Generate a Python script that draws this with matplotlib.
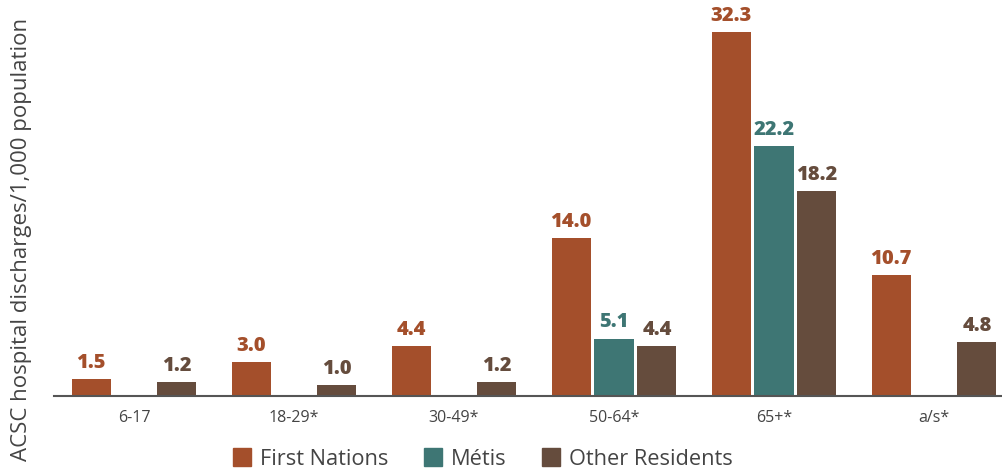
import matplotlib
matplotlib.use("Agg")
import matplotlib.pyplot as plt
import numpy as np
from matplotlib.patches import Patch

categories = ["6-17", "18-29*", "30-49*", "50-64*", "65+*", "a/s*"]
first_nations = [1.5, 3.0, 4.4, 14.0, 32.3, 10.7]
metis = [None, None, None, 5.1, 22.2, None]
other = [1.2, 1.0, 1.2, 4.4, 18.2, 4.8]
series_names = ["First Nations", "Métis", "Other Residents"]
colors = ["#A44F2B", "#3E7674", "#654C3D"]

plt.rcParams['font.family'] = ['Open Sans', 'DejaVu Sans']

fig = plt.figure(figsize=(10.03, 4.72), dpi=100)
ax = fig.add_axes([54/1003, 76/472, (1003-54)/1003, 396/472])

x = np.arange(len(categories))
width = 0.245
offset = 0.268
for i, (vals, col) in enumerate(zip([first_nations, metis, other], colors)):
    pos = x + (i - 1) * offset
    for p, v in zip(pos, vals):
        if v is None:
            continue
        ax.bar(p, v, width=width, color=col)
        ax.text(p, v + 0.55, f"{v:.1f}", ha="center", va="bottom",
                color=col, fontsize=14.5, fontweight="heavy")

ax.set_xlim(-0.5, (1003-134)/160)
ax.set_ylim(0, 396/11.27)
for s in ["left", "right", "top"]:
    ax.spines[s].set_visible(False)
ax.spines["bottom"].set_color("#555555")
ax.spines["bottom"].set_linewidth(1.5)
ax.set_yticks([])
ax.set_xticks(x)
ax.set_xticklabels(categories, fontsize=11.5, color="#444444")
ax.tick_params(axis="x", length=0, pad=10)

fig.text(22/1003, 1 - 239/472, "ACSC hospital discharges/1,000 population",
         rotation=90, ha="center", va="center", fontsize=16, color="#444444")

handles = [Patch(color=c, label=n) for c, n in zip(colors, series_names)]
fig.legend(handles=handles, loc="center", bbox_to_anchor=(483/1003, 1 - 459/472),
           ncol=3, frameon=False, fontsize=15.7, handlelength=0.84, handleheight=0.84,
           columnspacing=1.6, handletextpad=0.42, labelcolor="#444444",
           borderpad=0, borderaxespad=0)

fig.savefig("out.png", dpi=100)
